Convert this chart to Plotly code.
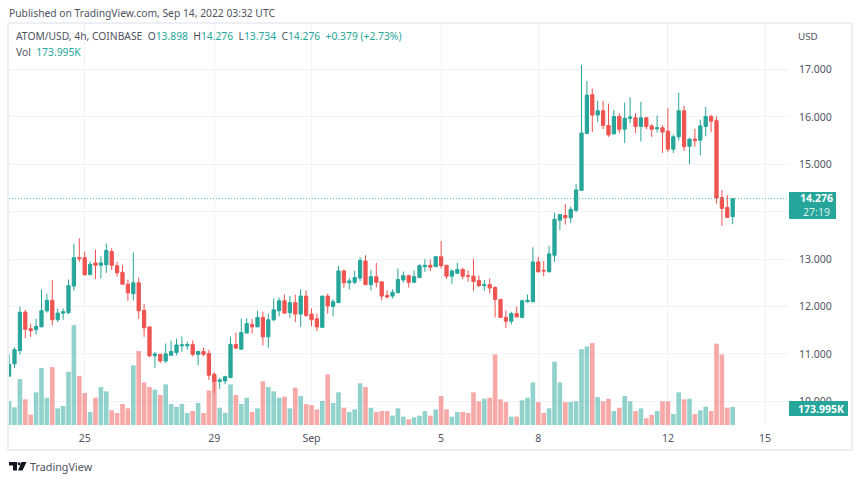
from datetime import datetime, timedelta
import plotly.graph_objects as go

opens = [10.53,10.79,11.07,11.88,11.53,11.51,11.57,11.91,12.13,11.72,11.86,11.87,12.43,13.03,13.03,12.67,12.92,12.87,12.88,13.16,
12.86,12.72,12.47,12.27,12.50,11.92,11.57,10.96,10.99,10.85,10.97,11.03,11.17,11.17,11.20,10.99,11.05,11.01,10.57,10.42,
10.43,10.50,11.20,11.10,11.44,11.62,11.57,11.77,11.36,11.72,11.91,12.12,11.87,12.08,11.84,12.22,11.84,11.74,11.56,12.22,
12.00,12.08,12.75,12.50,12.51,12.60,12.96,12.46,12.63,12.52,12.23,12.22,12.29,12.56,12.65,12.51,12.61,12.84,12.87,12.84,
13.05,12.87,12.64,12.70,12.78,12.65,12.64,12.55,12.44,12.46,12.40,12.15,11.77,11.69,11.85,11.77,12.10,12.10,12.94,12.76,
12.73,13.08,13.82,13.92,13.87,14.03,14.45,15.65,16.47,16.04,16.13,15.82,15.64,16.01,15.74,15.97,15.98,15.80,15.98,15.81,
15.75,15.77,15.70,15.32,15.58,16.13,15.38,15.53,15.51,15.80,16.01,15.92,14.30,14.09,13.898]
highs = [10.99,11.14,12.00,11.93,11.64,11.74,12.36,12.27,12.56,11.96,11.96,12.57,13.32,13.44,13.16,12.95,13.20,13.06,13.33,13.23,
12.94,12.87,12.57,13.14,12.61,12.05,11.57,11.04,10.99,11.22,11.28,11.32,11.37,11.26,11.28,11.07,11.13,11.09,10.61,10.50,
10.54,11.36,11.45,11.74,11.75,11.74,11.91,11.89,11.85,12.17,12.19,12.25,12.22,12.25,12.36,12.34,11.96,11.85,12.22,12.27,
12.15,12.86,12.78,12.60,12.75,13.04,13.08,12.77,12.92,12.52,12.34,12.36,12.80,12.74,12.67,12.76,12.89,13.00,12.99,13.06,
13.38,12.87,12.78,12.92,12.82,12.76,13.01,12.65,12.56,12.59,12.43,12.15,11.92,11.89,12.00,12.15,12.25,13.25,13.05,12.96,
13.28,13.98,13.94,14.16,14.11,14.58,17.10,16.76,16.60,16.34,16.34,16.28,16.15,16.08,16.30,16.41,16.08,16.32,16.00,15.85,
16.03,15.82,16.19,15.63,16.51,16.23,15.56,15.75,15.94,16.21,16.05,16.01,14.46,14.35,14.276]
lows = [10.53,10.70,10.98,11.33,11.36,11.41,11.57,11.87,11.60,11.67,11.72,11.84,12.34,12.94,12.65,12.67,12.58,12.59,12.71,12.77,
12.63,12.47,12.12,12.13,11.74,11.36,10.93,10.70,10.81,10.81,10.97,10.97,11.04,11.09,10.95,10.76,10.95,10.45,10.18,10.26,
10.36,10.50,11.12,11.10,11.44,11.43,11.57,11.18,11.13,11.69,11.79,11.86,11.76,11.67,11.57,11.78,11.58,11.48,11.56,11.85,
11.79,12.08,12.40,12.36,12.47,12.54,12.46,12.34,12.40,12.13,12.17,12.17,12.29,12.50,12.40,12.50,12.61,12.73,12.75,12.84,
12.80,12.58,12.48,12.70,12.58,12.52,12.33,12.41,12.33,12.27,11.77,11.77,11.55,11.62,11.78,11.77,12.08,12.10,12.73,12.64,
12.73,12.94,13.61,13.73,13.76,13.99,14.44,15.65,15.68,15.89,15.74,15.58,15.64,15.66,15.45,15.87,15.66,15.48,15.74,15.58,
15.67,15.24,15.26,15.24,15.50,15.28,15.00,15.37,15.19,15.59,15.68,14.17,13.70,13.88,13.734]
closes = [10.78,11.09,11.88,11.52,11.49,11.58,11.91,12.13,11.72,11.86,11.89,12.44,13.03,13.01,12.67,12.89,12.87,12.92,13.18,12.87,
12.71,12.47,12.29,12.50,11.91,11.55,10.96,11.00,10.85,11.00,11.05,11.19,11.19,11.20,10.99,11.05,10.99,10.55,10.42,10.45,
10.52,11.20,11.12,11.45,11.64,11.57,11.77,11.36,11.72,11.93,12.12,11.86,12.08,11.84,12.22,11.81,11.72,11.57,12.22,12.01,
12.10,12.75,12.50,12.54,12.61,12.97,12.46,12.63,12.51,12.22,12.20,12.30,12.57,12.65,12.51,12.63,12.86,12.87,12.83,13.05,
12.86,12.64,12.75,12.78,12.64,12.64,12.53,12.44,12.46,12.39,12.15,11.77,11.69,11.85,11.78,12.12,12.13,12.94,12.73,12.75,
13.11,13.84,13.94,13.87,14.05,14.46,15.66,16.46,16.04,16.13,15.82,15.62,16.01,15.74,15.97,16.00,15.80,15.98,15.80,15.74,
15.77,15.68,15.32,15.58,16.13,15.37,15.53,15.50,15.81,16.01,15.91,14.29,14.07,13.88,14.276]
volumes_k = [232,171,445,248,100,316,551,264,560,161,184,515,966,473,309,126,264,367,325,142,
116,203,161,576,715,412,367,341,290,393,203,177,203,116,135,213,116,335,464,167,
116,393,290,203,264,126,161,422,367,325,264,274,161,361,280,203,193,151,232,490,
213,316,167,126,151,403,367,167,126,135,135,90,161,81,55,74,90,135,90,151,
280,151,81,126,126,116,316,229,254,264,683,248,222,81,81,238,264,412,222,116,
161,612,412,222,222,229,734,760,792,270,229,254,135,167,280,229,135,161,64,97,
135,229,229,106,316,248,254,106,142,177,135,786,683,167,174]

price_ticks = [10, 11, 12, 13, 14, 15, 16, 17]
price_tick_labels = ["10.000", "11.000", "12.000", "13.000", "", "15.000", "16.000", "17.000"]
time_ticks = ["2022-08-25", "2022-08-29", "2022-09-01", "2022-09-05", "2022-09-08", "2022-09-12", "2022-09-15"]
time_tick_labels = ["25", "29", "Sep", "5", "8", "12", "15"]
last_price = 14.276

UP, DOWN = "#26a69a", "#ef5350"
UP_V, DOWN_V = "rgba(38,166,154,0.5)", "rgba(239,83,80,0.5)"
GRID, FRAME, TEXT = "#f0f3fa", "#eeeff6", "#50535e"
FONT = "Noto Sans"

W, H = 860, 482
L, R, T, B = 9, 789, 24, 425
fx = lambda p: (p - L) / (R - L)
fy = lambda p: (B - p) / (B - T)

start = datetime(2022, 9, 8) - timedelta(hours=4 * 98)
dates = [start + timedelta(hours=4 * i) for i in range(len(opens))]
anchor = datetime(2022, 9, 8)
x_range = [anchor - timedelta(days=(538.3 - L) / 32.4), anchor + timedelta(days=(R - 538.3) / 32.4)]

fig = go.Figure()
fig.add_trace(go.Bar(
    x=dates, y=volumes_k, yaxis="y",
    marker=dict(color=[UP_V if c >= o else DOWN_V for o, c in zip(opens, closes)], line_width=0),
    hoverinfo="skip", showlegend=False))
fig.add_trace(go.Candlestick(
    x=dates, open=opens, high=highs, low=lows, close=closes, yaxis="y2",
    increasing=dict(line=dict(color=UP, width=1), fillcolor=UP),
    decreasing=dict(line=dict(color=DOWN, width=1), fillcolor=DOWN),
    whiskerwidth=0, showlegend=False))


def note(text, x, y, size=10.3, color=TEXT, anchor_x="left"):
    fig.add_annotation(text=text, xref="paper", yref="paper", x=fx(x - 2 if anchor_x == "left" else x), y=fy(y),
                       xanchor=anchor_x, yanchor="middle", showarrow=False, align="center",
                       font=dict(family=FONT, size=size, color=color))


g = lambda s: f'<span style="color:{UP}">{s}</span>'
note("Published on TradingView.com, Sep 14, 2022 03:32 UTC", 9, 13)
note(f"ATOM/USD, 4h, COINBASE  O{g('13.898')}  H{g('14.276')}  L{g('13.734')}  C{g('14.276')}  {g('+0.379 (+2.73%)')}", 16, 36)
note(f"Vol  {g('173.995K')}", 16, 52)
note("USD", 798, 36, size=9.8)
note("TradingView", 30, 466, size=10.8)
note('<b>14.276</b><br><span style="color:rgba(255,255,255,0.85)">27:19</span>', 816, 205.5, size=10.5, color="#ffffff",
     anchor_x="center")
note("<b>173.995K</b>", 821, 408.5, size=10.5, color="#ffffff", anchor_x="center")


def poly(points):
    return "M" + " L".join(f"{fx(a):.5f},{fy(b):.5f}" for a, b in points) + " Z"


shapes = [
    dict(type="rect", xref="paper", yref="paper", x0=fx(8), x1=fx(852), y0=fy(450), y1=fy(23),
         line=dict(color=FRAME, width=2), layer="below"),
    dict(type="line", xref="paper", yref="y2", x0=0, x1=1, y0=last_price, y1=last_price,
         line=dict(color="#5cbdb3", width=1, dash="1px,2px"), layer="above"),
    dict(type="rect", xref="paper", yref="paper", x0=fx(789), x1=fx(836), y0=fy(219), y1=fy(192),
         fillcolor=UP, line_width=0, layer="above"),
    dict(type="rect", xref="paper", yref="paper", x0=fx(789), x1=fx(848), y0=fy(416), y1=fy(401),
         fillcolor=UP, line_width=0, layer="above"),
    dict(type="path", xref="paper", yref="paper", line_width=0, fillcolor="#131722",
         path=poly([(9, 462), (17, 462), (17, 470.5), (13, 470.5), (13, 465.5), (9, 465.5)])),
    dict(type="path", xref="paper", yref="paper", line_width=0, fillcolor="#131722",
         path=poly([(21.5, 462), (26.5, 462), (22.5, 470.5), (18, 470.5)])),
    dict(type="circle", xref="paper", yref="paper", line_width=0, fillcolor="#131722",
         x0=fx(17.6), x1=fx(20.6), y0=fy(465.2), y1=fy(462.2)),
]

fig.update_layout(
    width=W, height=H, autosize=False,
    margin=dict(l=L, r=W - R, t=T, b=H - B, pad=0),
    paper_bgcolor="#ffffff", plot_bgcolor="#ffffff",
    bargap=0.14, boxgap=0.14, barmode="overlay", hovermode=False, dragmode=False,
    shapes=shapes,
    font=dict(family=FONT, size=10.5, color=TEXT),
    xaxis=dict(type="date", range=x_range, rangeslider=dict(visible=False), tickmode="array",
               tickvals=time_ticks, ticktext=time_tick_labels, showgrid=True, gridcolor=GRID, gridwidth=1,
               ticks="", zeroline=False, showline=False, ticklabelstandoff=5,
               tickfont=dict(family=FONT, size=10.5, color=TEXT)),
    yaxis=dict(range=[0, 3878], visible=False, fixedrange=True),
    yaxis2=dict(overlaying="y", side="right", range=[9.50, 17.96], tickmode="array", tickvals=price_ticks,
                ticktext=price_tick_labels, showgrid=True, gridcolor=GRID, gridwidth=1, zeroline=False,
                ticks="", showline=False, ticklabelstandoff=9, fixedrange=True,
                tickfont=dict(family=FONT, size=10.5, color=TEXT)),
)

fig.write_html("out.html", config=dict(displayModeBar=False), post_script="document.body.style.margin='0';")
